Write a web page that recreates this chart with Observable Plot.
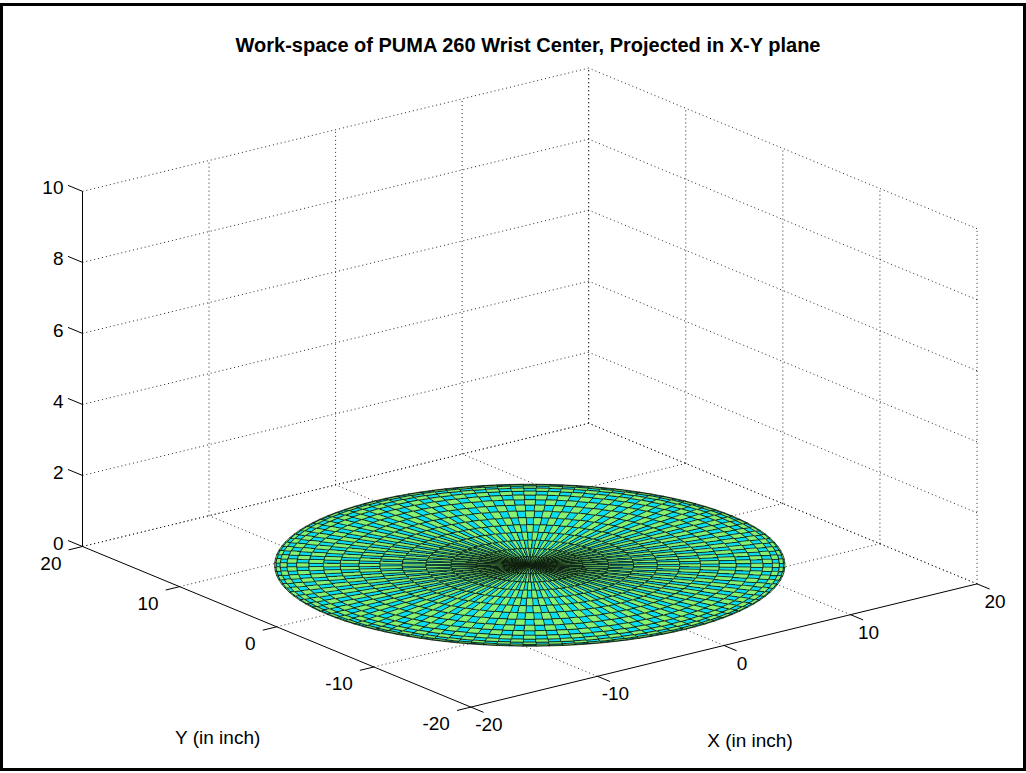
<!DOCTYPE html>
<html><head><meta charset="utf-8">
<script src="https://cdn.jsdelivr.net/npm/d3@7"></script>
<script src="https://cdn.jsdelivr.net/npm/@observablehq/plot@0.6"></script>
<style>
html,body{margin:0;padding:0;background:#fff;}
#wrap{position:relative;width:1026px;height:773px;overflow:hidden;background:#fff;font-family:"Liberation Sans",Arial,sans-serif;}
#chart{position:absolute;left:0;top:0;}
#title{position:absolute;left:0;width:1056px;top:34px;line-height:22px;text-align:center;font-weight:bold;font-size:20px;color:#000;}
#frame{position:absolute;left:0;top:3px;width:1026px;height:768px;box-sizing:border-box;border:3px solid #000;pointer-events:none;}
</style></head><body>
<div id="wrap"><div id="chart"></div><div id="title"></div><div id="frame"></div></div>
<script>
// ---- data ----
const titleText = "Work-space of PUMA 260 Wrist Center, Projected in X-Y plane";
const xLabelText = "X (in inch)";
const yLabelText = "Y (in inch)";
const xLimits = [-20, 20];
const yLimits = [-20, 20];
const zLimits = [0, 10];
const xTicks = [-20, -10, 0, 10, 20];
const yTicks = [-20, -10, 0, 10, 20];
const zTicks = [0, 2, 4, 6, 8, 10];
// ring radii of the reach disk (inch), outer edge to centre
const ringRadii = [16, 15.91, 15.65, 15.22, 14.62, 13.86, 12.94, 11.88, 10.71, 9.40, 8.00, 6.51, 4.94, 3.33, 1.67, 0];
const spokeStepDeg = 3;           // base joint angle step
const faceColors = ["#0adcf2", "#86f274"];
const view = {az: -37.5, el: 18.5, boxHeight: 0.587};

// ---- projection (orthographic, MATLAB-like view) ----
const az = view.az * Math.PI / 180, el = view.el * Math.PI / 180;
function proj(x, y, z) {
  const u = (x - xLimits[0]) / (xLimits[1] - xLimits[0]);
  const v = (y - yLimits[0]) / (yLimits[1] - yLimits[0]);
  const w = (z - zLimits[0]) / (zLimits[1] - zLimits[0]);
  const sx = Math.cos(az) * u + Math.sin(az) * v;
  const sy = Math.sin(el) * (-Math.sin(az) * u + Math.cos(az) * v) + Math.cos(el) * view.boxHeight * w;
  return [sx, sy];
}
const W = 1026, H = 773, S = 638;           // pixel layout of the plot box
const anchorPx = [82, 546];                  // where corner (x=-20,y=20,z=0) sits
const a0 = proj(xLimits[0], yLimits[1], zLimits[0]);
const xDomain = [a0[0] - anchorPx[0] / S, a0[0] + (W - anchorPx[0]) / S];
const yDomain = [a0[1] - (H - anchorPx[1]) / S, a0[1] + anchorPx[1] / S];

function seg(p, q, extra = {}) {
  const a = proj(...p), b = proj(...q);
  return {x1: a[0], y1: a[1], x2: b[0], y2: b[1], ...extra};
}

// grid (dotted)
const grid = [];
const [x0, x1] = xLimits, [y0, y1] = yLimits, [z0, z1] = zLimits;
for (const z of zTicks) {
  grid.push(seg([x0, y1, z], [x1, y1, z]));   // back wall
  grid.push(seg([x1, y0, z], [x1, y1, z]));   // right wall
}
for (const x of xTicks) {
  if (x !== x0) grid.push(seg([x, y1, z0], [x, y1, z1]));
  if (x !== x0) grid.push(seg([x, y0, z0], [x, y1, z0]));
}
for (const y of yTicks) {
  grid.push(seg([x1, y, z0], [x1, y, z1]));
  if (y !== y0) grid.push(seg([x0, y, z0], [x1, y, z0]));
}

// axes (solid) and ticks
const axes = [
  seg([x0, y1, z0], [x0, y1, z1]),
  seg([x0, y1, z0], [x0, y0, z0]),
  seg([x0, y0, z0], [x1, y0, z0])
];
const ticks = [];
for (const z of zTicks) ticks.push(seg([x0, y1, z], [x0, y1 + 1.5, z]));
for (const y of yTicks) ticks.push(seg([x0, y, z0], [x0 - 1.1, y, z0]));
for (const x of xTicks) ticks.push(seg([x, y0, z0], [x, y0 - 1.3, z0]));

const zLab = zTicks.map(z => { const p = proj(x0, y1, z); return {sx: p[0], sy: p[1], t: String(z)}; });
const yLab = yTicks.map(y => { const p = proj(x0, y, z0); return {sx: p[0], sy: p[1], t: String(y)}; });
const xLab = xTicks.map(x => { const p = proj(x, y0, z0); return {sx: p[0], sy: p[1], t: String(x)}; });
const pY = proj(x0, (y0 + y1) / 2, z0), pX = proj((x0 + x1) / 2, y0, z0);

// disk faces
const nSp = Math.round(360 / spokeStepDeg);
const faces = [[], []];
for (let i = 0; i < ringRadii.length - 1; i++) {
  const r0 = ringRadii[i], r1 = ringRadii[i + 1];
  for (let j = 0; j < nSp; j++) {
    const t0 = j * spokeStepDeg * Math.PI / 180, t1 = (j + 1) * spokeStepDeg * Math.PI / 180;
    const id = i * nSp + j, par = (i + j) % 2;
    for (const [r, t] of [[r0, t0], [r0, t1], [r1, t1], [r1, t0]]) {
      const p = proj(r * Math.cos(t), r * Math.sin(t), 0);
      faces[par].push({id, sx: p[0], sy: p[1]});
    }
  }
}

const font = "Liberation Sans, Arial, sans-serif";
const edge = {stroke: "#102010", strokeWidth: 0.75, shapeRendering: "crispEdges"};
const plot = Plot.plot({
  width: W, height: H, margin: 0,
  style: {background: "white", fontFamily: font, overflow: "visible"},
  x: {domain: xDomain, range: [0, W], axis: null},
  y: {domain: yDomain, range: [H, 0], axis: null},
  marks: [
    Plot.link(grid, {x1: "x1", y1: "y1", x2: "x2", y2: "y2", stroke: "#111", strokeWidth: 1, strokeDasharray: "1 3", strokeOpacity: 0.9}),
    Plot.line(faces[0], {x: "sx", y: "sy", z: "id", curve: "linear-closed", fill: faceColors[0], ...edge}),
    Plot.line(faces[1], {x: "sx", y: "sy", z: "id", curve: "linear-closed", fill: faceColors[1], ...edge}),
    Plot.link(axes, {x1: "x1", y1: "y1", x2: "x2", y2: "y2", stroke: "#000", strokeWidth: 1}),
    Plot.link(ticks, {x1: "x1", y1: "y1", x2: "x2", y2: "y2", stroke: "#000", strokeWidth: 1}),
    Plot.text(zLab, {x: "sx", y: "sy", text: "t", textAnchor: "end", dx: -19, dy: -3, fontSize: 19, fill: "#000"}),
    Plot.text(yLab, {x: "sx", y: "sy", text: "t", textAnchor: "end", dx: -21, dy: 17, fontSize: 19, fill: "#000"}),
    Plot.text(xLab, {x: "sx", y: "sy", text: "t", textAnchor: "middle", dx: 18, dy: 18, fontSize: 19, fill: "#000"}),
    Plot.text([{sx: pY[0], sy: pY[1], t: yLabelText}], {x: "sx", y: "sy", text: "t", dx: -59, dy: 111, fontSize: 19, fill: "#000"}),
    Plot.text([{sx: pX[0], sy: pX[1], t: xLabelText}], {x: "sx", y: "sy", text: "t", dx: 26, dy: 95, fontSize: 19, fill: "#000"})
  ]
});
document.getElementById("chart").appendChild(plot);
document.getElementById("title").textContent = titleText;
</script>
</body></html>
